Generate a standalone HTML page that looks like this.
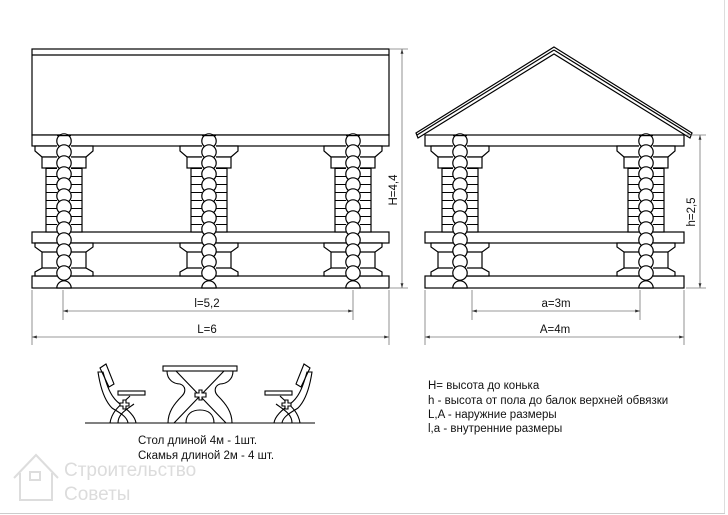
<!DOCTYPE html>
<html><head><meta charset="utf-8"><style>
html,body{margin:0;padding:0;background:#fff}
svg{display:block}
text{font-family:"Liberation Sans",Arial,sans-serif}
</style></head><body>
<svg width="728" height="515" viewBox="0 0 728 515" xmlns="http://www.w3.org/2000/svg">
<defs>
<pattern id="bricks" patternUnits="userSpaceOnUse" x="0" y="168" width="10" height="8">
<rect width="10" height="8" fill="#fff"/><line x1="0" y1="0.5" x2="10" y2="0.5" stroke="#000" stroke-width="1"/>
</pattern>
<g id="col" stroke="#000" stroke-width="1.2" fill="#fff">
<polygon points="-29,146 29,146 29,151 22,157 -22,157 -29,151"/>
<rect x="-22" y="157" width="44" height="11"/>
<rect x="-18" y="168" width="36" height="64" fill="url(#bricks)"/>
<polygon points="-29,243 29,243 29,247 22,252 22,268 29,272 29,276 -29,276 -29,272 -22,268 -22,252 -29,247"/>
<line x1="-22" y1="252" x2="22" y2="252"/><line x1="-22" y1="268" x2="22" y2="268"/>
<rect x="-7" y="135" width="14" height="153" stroke="none"/>
<circle cx="0" cy="141" r="7.2"/><circle cx="0" cy="152" r="7.2"/><circle cx="0" cy="163" r="7.2"/>
<circle cx="0" cy="174" r="7.2"/><circle cx="0" cy="185" r="7.2"/><circle cx="0" cy="196" r="7.2"/>
<circle cx="0" cy="207" r="7.2"/><circle cx="0" cy="218" r="7.2"/><circle cx="0" cy="229" r="7.2"/>
<circle cx="0" cy="240" r="7.2"/><circle cx="0" cy="251" r="7.2"/><circle cx="0" cy="262" r="7.2"/>
<circle cx="0" cy="273" r="7.2"/><path d="M-7.2,288 A7.2,7.2 0 0 1 7.2,288 Z"/>
<line x1="-7" y1="135.6" x2="7" y2="135.6"/>
</g>
<marker id="ar" viewBox="0 0 10 10" refX="10" refY="5" markerWidth="6" markerHeight="6" orient="auto-start-reverse"><path d="M0,2 L10,5 L0,8z" fill="#333"/></marker>
</defs>

<line x1="724.5" y1="0" x2="724.5" y2="513" stroke="#ddd"/>
<line x1="0" y1="513.5" x2="725" y2="513.5" stroke="#ccc"/>

<g stroke="#000" stroke-width="1.2" fill="#fff">
<rect x="32" y="49" width="357" height="86"/>
<line x1="32" y1="55" x2="389" y2="55"/>
<rect x="32" y="135" width="357" height="11"/>
<rect x="32" y="232" width="357" height="11"/>
<rect x="32" y="276" width="357" height="12"/>
</g>
<use href="#col" transform="translate(64,0)"/>
<use href="#col" transform="translate(209,0)"/>
<use href="#col" transform="translate(353,0)"/>

<g stroke="#000" stroke-width="1.2" fill="#fff">
<polygon points="554,47 692,133 690,138 554,54 418,138 416,133"/>
<line x1="554" y1="50" x2="691" y2="135"/><line x1="554" y1="50" x2="417" y2="135"/>
<rect x="425" y="135" width="259" height="11"/>
<rect x="425" y="232" width="259" height="11"/>
<rect x="425" y="276" width="259" height="12"/>
</g>
<use href="#col" transform="translate(460,0)"/>
<use href="#col" transform="translate(646,0)"/>

<g stroke="#777" stroke-width="0.8" fill="none">
<line x1="32" y1="290" x2="32" y2="345"/><line x1="389" y1="290" x2="389" y2="345"/>
<line x1="63" y1="290" x2="63" y2="320"/><line x1="353" y1="290" x2="353" y2="320"/>
<line x1="63" y1="311" x2="353" y2="311" marker-start="url(#ar)" marker-end="url(#ar)"/>
<line x1="32" y1="337" x2="389" y2="337" marker-start="url(#ar)" marker-end="url(#ar)"/>
<line x1="390" y1="49" x2="408" y2="49"/><line x1="390" y1="288" x2="408" y2="288"/>
<line x1="402" y1="49" x2="402" y2="288" marker-start="url(#ar)" marker-end="url(#ar)"/>
<line x1="425" y1="290" x2="425" y2="345"/><line x1="684" y1="290" x2="684" y2="345"/>
<line x1="472" y1="290" x2="472" y2="320"/><line x1="640" y1="290" x2="640" y2="320"/>
<line x1="472" y1="311" x2="640" y2="311" marker-start="url(#ar)" marker-end="url(#ar)"/>
<line x1="425" y1="337" x2="684" y2="337" marker-start="url(#ar)" marker-end="url(#ar)"/>
<line x1="686" y1="135" x2="706" y2="135"/><line x1="686" y1="288" x2="706" y2="288"/>
<line x1="700" y1="135" x2="700" y2="288" marker-start="url(#ar)" marker-end="url(#ar)"/>
</g>
<g font-size="11.5" fill="#111">
<text x="207" y="307" text-anchor="middle">l=5,2</text>
<text x="207" y="333" text-anchor="middle">L=6</text>
<text x="556" y="307" text-anchor="middle">a=3m</text>
<text x="555" y="333" text-anchor="middle">A=4m</text>
<text transform="translate(397,190) rotate(-90)" text-anchor="middle">H=4,4</text>
<text transform="translate(695,212) rotate(-90)" text-anchor="middle">h=2,5</text>
</g>

<g stroke="#000" stroke-width="1.1" fill="none">
<line x1="85" y1="423" x2="315" y2="423"/>
<rect x="163" y="366" width="74" height="5" fill="#fff"/>
<path d="M167,371 C167,380 174,384 180,384 C186,386 186,392 182,396 C174,404 168,412 168,423 L186,423 C186,414 192,410 200,410 C208,410 214,414 214,423 L232,423 C232,412 226,404 218,396 C214,392 214,386 220,384 C226,384 233,380 233,371"/>
<path d="M176,371 L226,423 M224,371 L174,423"/>
<path d="M195,393 h4 v-3 h3 v3 h4 v4 h-4 v3 h-3 v-3 h-4z" fill="#fff"/>
<!-- left bench -->
<path d="M100,368 L106,364 L114,384 L109,387z"/>
<path d="M103,372 C108,390 112,398 120,404 C128,410 135,416 136,423 L128,423 C127,416 118,412 112,408 C106,402 101,392 98,372z"/>
<path d="M130,396 C122,404 112,410 110,423 L118,423 C118,414 126,410 134,404"/>
<rect x="118" y="391" width="27" height="4" fill="#fff"/>
<path d="M120,403 h3 v-3 h3 v3 h3 v3 h-3 v3 h-3 v-3 h-3z" fill="#fff"/>
<!-- right bench -->
<path d="M310,368 L304,364 L296,384 L301,387z"/>
<path d="M307,372 C302,390 298,398 290,404 C282,410 275,416 274,423 L282,423 C283,416 292,412 298,408 C304,402 309,392 312,372z"/>
<path d="M280,396 C288,404 298,410 300,423 L292,423 C292,414 284,410 276,404"/>
<rect x="265" y="391" width="27" height="4" fill="#fff"/>
<path d="M282,403 h3 v-3 h3 v3 h3 v3 h-3 v3 h-3 v-3 h-3z" fill="#fff"/>
</g>
<g font-size="11.5" fill="#111">
<text x="138" y="444">Стол длиной 4м  - 1шт.</text>
<text x="138" y="459">Скамья длиной 2м - 4 шт.</text>
<text x="428" y="389">H= высота до конька</text>
<text x="428" y="404">h -  высота от пола до балок верхней обвязки</text>
<text x="428" y="418">L,A - наружние размеры</text>
<text x="428" y="432">l,a - внутренние размеры</text>
</g>

<g fill="none" stroke="#ddd" stroke-width="2">
<path d="M14,478 L36,455 L58,478 M20,473 V500 H52 V473"/>
<rect x="30" y="472" width="10" height="8"/>
</g>
<g font-size="19" fill="#dcdcdc">
<text x="64" y="476">Строительство</text>
<text x="64" y="500">Советы</text>
</g>
</svg>
</body></html>
